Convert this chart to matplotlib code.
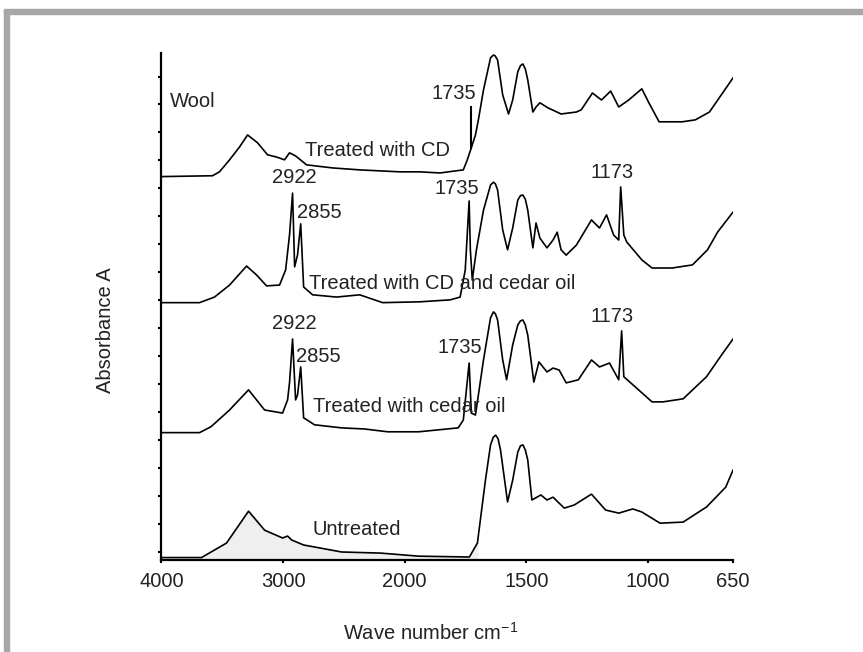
# FTIR spectra of wool samples, stacked with offsets
import numpy as np
import matplotlib
matplotlib.use('Agg')
import matplotlib.pyplot as plt
from matplotlib.patches import Rectangle

plt.rcParams['font.family'] = ['Liberation Sans', 'DejaVu Sans']

# wave numbers (cm-1) and absorbance above each spectrum's own baseline
wool_wn = [4000, 3580, 3523, 3440, 3358, 3292, 3210, 3128, 3054, 2988, 2947, 2897, 2807,
           2593, 2370, 2041, 1938, 1855, 1759, 1743, 1726, 1709, 1697, 1676, 1647, 1635,
           1628, 1618, 1597, 1573, 1556, 1535, 1524, 1514, 1504, 1494, 1473, 1460, 1444,
           1411, 1357, 1294, 1274, 1228, 1191, 1153, 1120, 1079, 1025, 996, 954, 859, 805,
           747, 693, 650]
wool_abs = [0, 0.03, 0.17, 0.60, 1.06, 1.49, 1.21, 0.78, 0.70, 0.60, 0.85, 0.74, 0.42,
            0.31, 0.24, 0.17, 0.17, 0.13, 0.24, 0.59, 1.03, 1.49, 2.03, 3.10, 4.25, 4.35,
            4.32, 4.17, 2.92, 2.24, 2.74, 3.75, 3.97, 4.03, 3.85, 3.46, 2.31, 2.49, 2.64,
            2.46, 2.24, 2.31, 2.39, 2.99, 2.74, 3.06, 2.49, 2.74, 3.14, 2.64, 1.96, 1.96, 2.03,
            2.31, 2.99, 3.53]

cdoil_wn = [4000, 3687, 3564, 3440, 3300, 3218, 3136, 3029, 2979, 2947, 2922, 2905, 2881,
            2855, 2831, 2757, 2560, 2370, 2181, 1938, 1813, 1772, 1751, 1735, 1730, 1722,
            1705, 1676, 1647, 1635, 1627, 1618, 1597, 1577, 1556, 1535, 1524, 1514, 1504,
            1494, 1473, 1460, 1444, 1415, 1390, 1373, 1357, 1336, 1294, 1232, 1199, 1170,
            1141, 1120, 1112, 1099, 1087, 1025, 983, 900, 817, 755, 713, 650]
cdoil_abs = [0, 0, 0.20, 0.63, 1.31, 0.99, 0.60, 0.63, 1.17, 2.42, 3.92, 1.28, 1.71,
             2.82, 0.56, 0.28, 0.20, 0.28, 0, 0.03, 0.10, 0.20, 1.17, 3.64, 1.89, 0.81,
             1.89, 3.31, 4.21, 4.31, 4.25, 4.03, 2.60, 1.89, 2.67, 3.67, 3.83, 3.85, 3.70,
             3.31, 1.96, 2.85, 2.31, 1.96, 2.24, 2.52, 1.89, 1.70, 2.06, 2.96, 2.67, 3.14,
             2.42, 2.24, 4.14, 2.42, 2.17, 1.53, 1.24, 1.24, 1.35, 1.89, 2.53, 3.24]

oil_wn = [4000, 3687, 3593, 3440, 3284, 3152, 3004, 2963, 2947, 2922, 2897, 2881, 2855,
          2831, 2741, 2519, 2329, 2140, 1942, 1780, 1759, 1735, 1726, 1709, 1676, 1647,
          1635, 1627, 1618, 1597, 1581, 1556, 1535, 1524, 1514, 1504, 1494, 1469, 1448,
          1415, 1390, 1365, 1336, 1286, 1232, 1199, 1158, 1120, 1108, 1099, 983, 938, 855,
          759, 697, 650]
oil_abs = [0, 0, 0.21, 0.81, 1.53, 0.81, 0.70, 1.17, 1.78, 3.35, 1.17, 1.35, 2.35,
           0.53, 0.28, 0.17, 0.13, 0.03, 0.03, 0.17, 0.45, 2.49, 0.70, 0.63, 2.60, 4.11,
           4.32, 4.25, 4.03, 2.60, 1.89, 3.14, 3.85, 4.00, 4.03, 3.85, 3.49, 1.81, 2.53,
           2.17, 2.31, 2.24, 1.78, 1.89, 2.60, 2.35, 2.49, 1.89, 3.64, 2.00, 1.10, 1.10, 1.21,
           2.00, 2.78, 3.35]

raw_wn = [4000, 3671, 3465, 3284, 3152, 3004, 2963, 2930, 2831, 2519, 2198, 1942, 1734,
          1701, 1668, 1647, 1636, 1626, 1616, 1606, 1577, 1556, 1535, 1524, 1514, 1504,
          1494, 1477, 1440, 1415, 1390, 1344, 1303, 1232, 1174, 1120, 1062, 1025, 950, 855,
          759, 680, 650]
raw_abs = [0, 0, 0.52, 1.66, 0.98, 0.70, 0.77, 0.63, 0.45, 0.20, 0.16, 0.05, 0.02,
           0.52, 2.77, 4.03, 4.30, 4.38, 4.25, 3.85, 1.99, 2.77, 3.77, 4.00, 4.03, 3.85,
           3.49, 2.06, 2.24, 2.06, 2.16, 1.77, 1.88, 2.27, 1.70, 1.59, 1.74, 1.63, 1.23, 1.27,
           1.81, 2.52, 3.13]

offsets = [13.42, 8.91, 4.26, -0.21]
names = ['Treated with CD', 'Treated with CD and cedar oil', 'Treated with cedar oil', 'Untreated']
xticks = [4000, 3000, 2000, 1500, 1000, 650]


# wave number axis: scale doubles below 2000 cm-1
def fwd(w):
    w = np.asarray(w, dtype=float)
    return np.where(w <= 2000, 2 * w, w + 2000)


def inv(u):
    u = np.asarray(u, dtype=float)
    return np.where(u <= 4000, u / 2, u - 2000)


fig = plt.figure(figsize=(8.63, 6.52), dpi=100)
ax = fig.add_axes([0.1871, 0.1411, 0.6623, 0.7781])
ax.set_xscale('function', functions=(fwd, inv))

spectra = [(wool_wn, wool_abs), (cdoil_wn, cdoil_abs), (oil_wn, oil_abs), (raw_wn, raw_abs)]
for (wn, ab), off in zip(spectra, offsets):
    ax.plot(wn, np.array(ab) + off, color='black', lw=1.2)

# shaded band under the untreated spectrum
rw = np.array(raw_wn)
ra = np.array(raw_abs) + offsets[3]
band = (rw <= 3671) & (rw >= 1701)
ax.fill_between(rw[band], ra[band], -0.3, color='#efefef', zorder=0)

# 1735 marker on the wool spectrum
ax.plot([1726, 1726], [offsets[0] + 1.03, 15.91], color='black', lw=1.5)

fs = 14.5
tc = '#222222'
ax.text(3934, 16.09, 'Wool', fontsize=fs, color=tc, va='center')
ax.text(2823, 14.37, names[0], fontsize=fs, color=tc, va='center')
ax.text(2790, 9.61, names[1], fontsize=fs, color=tc, va='center')
ax.text(2757, 5.18, names[2], fontsize=fs, color=tc, va='center')
ax.text(2757, 0.78, names[3], fontsize=fs, color=tc, va='center')

peak_lbls = [('1735', 1797, 16.41), ('2922', 2905, 13.37), ('2855', 2700, 12.12),
             ('1735', 1786, 13.01), ('1173', 1149, 13.55), ('2922', 2905, 8.18),
             ('2855', 2708, 6.97), ('1735', 1772, 7.29), ('1173', 1149, 8.43)]
for t, x, y in peak_lbls:
    ax.text(x, y, t, fontsize=fs, color=tc, ha='center', va='center')

ax.set_xlim(4000, 650)
ax.set_ylim(-0.297, 17.853)
ax.set_xticks(xticks)
ax.set_xticklabels([str(v) for v in xticks])
ax.set_yticks(range(18))
ax.set_yticklabels([])
ax.minorticks_off()
ax.tick_params(axis='x', direction='out', length=2.5, width=1.5, labelsize=fs,
               labelcolor=tc, pad=6)
ax.tick_params(axis='y', direction='out', length=2.5, width=1.5)
for s in ['top', 'right']:
    ax.spines[s].set_visible(False)
for s in ['left', 'bottom']:
    ax.spines[s].set_linewidth(1.6)

fig.text(0.1217, 0.4939, 'Absorbance A', rotation=90, fontsize=fs, color=tc,
         ha='center', va='center')
fig.text(0.4994, 0.0291, 'Wave number cm$^{\\mathregular{-1}}$', fontsize=fs, color=tc,
         ha='center', va='center')

# grey frame at top and left edge
fig.patches.append(Rectangle((4 / 863, 1 - 14 / 652), 1, 4.5 / 652,
                             transform=fig.transFigure, color='#a7a7a9', zorder=0))
fig.patches.append(Rectangle((4 / 863, 0), 5 / 863, 1 - 9.5 / 652,
                             transform=fig.transFigure, color='#a7a7a9', zorder=0))

fig.savefig('out.png', dpi=100)
